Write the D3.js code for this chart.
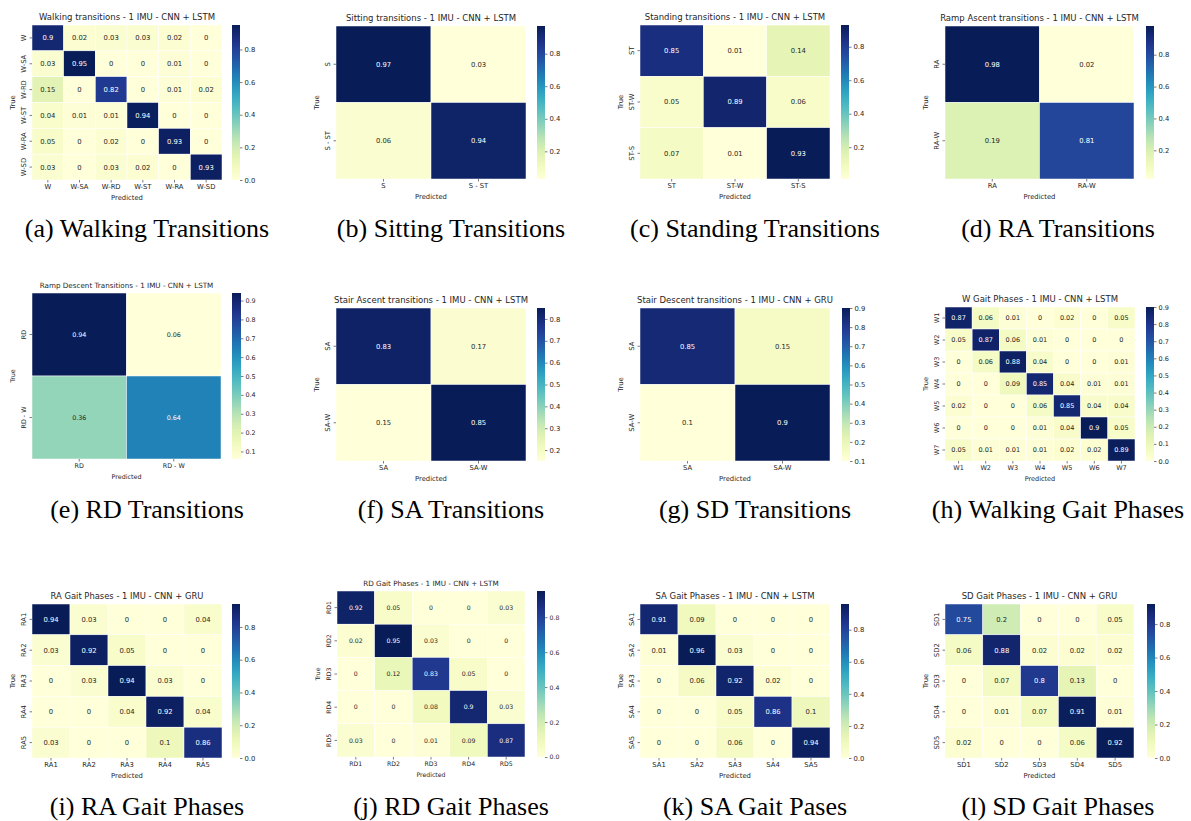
<!DOCTYPE html>
<html>
<head>
<meta charset="utf-8">
<script src="https://cdn.jsdelivr.net/npm/d3@7"></script>
<style>
  body { margin: 0; background: #fff; }
</style>
</head>
<body>
<svg id="fig" width="1191" height="821"></svg>
<script>
// ---- data ----
const walkLabels = ["W", "W-SA", "W-RD", "W-ST", "W-RA", "W-SD"];
const walkValues = [
    [0.9, 0.02, 0.03, 0.03, 0.02, 0],
    [0.03, 0.95, 0, 0, 0.01, 0],
    [0.15, 0, 0.82, 0, 0.01, 0.02],
    [0.04, 0.01, 0.01, 0.94, 0, 0],
    [0.05, 0, 0.02, 0, 0.93, 0],
    [0.03, 0, 0.03, 0.02, 0, 0.93]
];

const sitLabels = ["S", "S - ST"];
const sitValues = [[0.97, 0.03], [0.06, 0.94]];

const standLabels = ["ST", "ST-W", "ST-S"];
const standValues = [
    [0.85, 0.01, 0.14],
    [0.05, 0.89, 0.06],
    [0.07, 0.01, 0.93]
];

const raLabels = ["RA", "RA-W"];
const raValues = [[0.98, 0.02], [0.19, 0.81]];

const rdLabels = ["RD", "RD - W"];
const rdValues = [[0.94, 0.06], [0.36, 0.64]];

const saLabels = ["SA", "SA-W"];
const saValues = [[0.83, 0.17], [0.15, 0.85]];

const sdLabels = ["SA", "SA-W"];
const sdValues = [[0.85, 0.15], [0.1, 0.9]];

const wGaitLabels = ["W1", "W2", "W3", "W4", "W5", "W6", "W7"];
const wGaitValues = [
    [0.87, 0.06, 0.01, 0, 0.02, 0, 0.05],
    [0.05, 0.87, 0.06, 0.01, 0, 0, 0],
    [0, 0.06, 0.88, 0.04, 0, 0, 0.01],
    [0, 0, 0.09, 0.85, 0.04, 0.01, 0.01],
    [0.02, 0, 0, 0.06, 0.85, 0.04, 0.04],
    [0, 0, 0, 0.01, 0.04, 0.9, 0.05],
    [0.05, 0.01, 0.01, 0.01, 0.02, 0.02, 0.89]
];

const raGaitLabels = ["RA1", "RA2", "RA3", "RA4", "RA5"];
const raGaitValues = [
    [0.94, 0.03, 0, 0, 0.04],
    [0.03, 0.92, 0.05, 0, 0],
    [0, 0.03, 0.94, 0.03, 0],
    [0, 0, 0.04, 0.92, 0.04],
    [0.03, 0, 0, 0.1, 0.86]
];

const rdGaitLabels = ["RD1", "RD2", "RD3", "RD4", "RD5"];
const rdGaitValues = [
    [0.92, 0.05, 0, 0, 0.03],
    [0.02, 0.95, 0.03, 0, 0],
    [0, 0.12, 0.83, 0.05, 0],
    [0, 0, 0.08, 0.9, 0.03],
    [0.03, 0, 0.01, 0.09, 0.87]
];

const saGaitLabels = ["SA1", "SA2", "SA3", "SA4", "SA5"];
const saGaitValues = [
    [0.91, 0.09, 0, 0, 0],
    [0.01, 0.96, 0.03, 0, 0],
    [0, 0.06, 0.92, 0.02, 0],
    [0, 0, 0.05, 0.86, 0.1],
    [0, 0, 0.06, 0, 0.94]
];

const sdGaitLabels = ["SD1", "SD2", "SD3", "SD4", "SD5"];
const sdGaitValues = [
    [0.75, 0.2, 0, 0, 0.05],
    [0.06, 0.88, 0.02, 0.02, 0.02],
    [0, 0.07, 0.8, 0.13, 0],
    [0, 0.01, 0.07, 0.91, 0.01],
    [0.02, 0, 0, 0.06, 0.92]
];

// colorbar tick labels
const ticksFifths = [0, 0.2, 0.4, 0.6, 0.8];
const ticksFifthsNoZero = [0.2, 0.4, 0.6, 0.8];
const ticksTenthsFrom1 = [0.1, 0.2, 0.3, 0.4, 0.5, 0.6, 0.7, 0.8, 0.9];
const ticksTenths2to8 = [0.2, 0.3, 0.4, 0.5, 0.6, 0.7, 0.8];
const ticksTenths0to9 = [0, 0.1, 0.2, 0.3, 0.4, 0.5, 0.6, 0.7, 0.8, 0.9];

// ---- layout ----
const colCenters = [147, 451, 755, 1058];
const rowCaptionY = [237, 518, 815];

const panels = [
    { labels: walkLabels, values: walkValues, ticks: ticksFifths,
      title: "Walking transitions - 1 IMU - CNN + LSTM", caption: "(a) Walking Transitions",
      hm: [32, 25, 222, 180], cb: [232, 240], tfs: 8.5, fs: 6.8, col: 0, row: 0 },
    { labels: sitLabels, values: sitValues, ticks: ticksFifthsNoZero,
      title: "Sitting transitions - 1 IMU - CNN + LSTM", caption: "(b) Sitting Transitions",
      hm: [336, 26, 526, 179], cb: [537, 545], tfs: 8.5, fs: 6.8, col: 1, row: 0 },
    { labels: standLabels, values: standValues, ticks: ticksFifthsNoZero,
      title: "Standing transitions - 1 IMU - CNN + LSTM", caption: "(c) Standing Transitions",
      hm: [640, 25, 830, 179], cb: [841, 849], tfs: 8.5, fs: 6.8, col: 2, row: 0 },
    { labels: raLabels, values: raValues, ticks: ticksFifthsNoZero,
      title: "Ramp Ascent transitions - 1 IMU - CNN + LSTM", caption: "(d) RA Transitions",
      hm: [945, 26, 1134, 179], cb: [1146, 1154], tfs: 8.5, fs: 6.8, col: 3, row: 0 },
    { labels: rdLabels, values: rdValues, ticks: ticksTenthsFrom1,
      title: "Ramp Descent Transitions - 1 IMU - CNN + LSTM", caption: "(e) RD Transitions",
      hm: [32, 293, 221, 459], cb: [232, 241], tfs: 7.2, fs: 6.4, col: 0, row: 1 },
    { labels: saLabels, values: saValues, ticks: ticksTenths2to8,
      title: "Stair Ascent transitions - 1 IMU - CNN + LSTM", caption: "(f) SA Transitions",
      hm: [336, 308, 526, 461], cb: [537, 545], tfs: 8.5, fs: 6.8, col: 1, row: 1 },
    { labels: sdLabels, values: sdValues, ticks: ticksTenthsFrom1,
      title: "Stair Descent transitions - 1 IMU - CNN + GRU", caption: "(g) SD Transitions",
      hm: [640, 308, 830, 461], cb: [842, 850], tfs: 8.5, fs: 6.8, col: 2, row: 1 },
    { labels: wGaitLabels, values: wGaitValues, ticks: ticksTenths0to9,
      title: "W Gait Phases - 1 IMU - CNN + LSTM", caption: "(h) Walking Gait Phases",
      hm: [945, 307, 1135, 461], cb: [1146, 1154], tfs: 8.5, fs: 6.5, col: 3, row: 1 },
    { labels: raGaitLabels, values: raGaitValues, ticks: ticksFifths,
      title: "RA Gait Phases - 1 IMU - CNN + GRU", caption: "(i) RA Gait Phases",
      hm: [32, 604, 222, 758], cb: [232, 240], tfs: 8.4, fs: 6.8, col: 0, row: 2 },
    { labels: rdGaitLabels, values: rdGaitValues, ticks: ticksFifths,
      title: "RD Gait Phases - 1 IMU - CNN + LSTM", caption: "(j) RD Gait Phases",
      hm: [337, 591, 525, 757], cb: [537, 545], tfs: 7.2, fs: 6.2, col: 1, row: 2 },
    { labels: saGaitLabels, values: saGaitValues, ticks: ticksFifths,
      title: "SA Gait Phases - 1 IMU - CNN + LSTM", caption: "(k) SA Gait Pases",
      hm: [640, 604, 830, 758], cb: [841, 849], tfs: 8.5, fs: 6.8, col: 2, row: 2 },
    { labels: sdGaitLabels, values: sdGaitValues, ticks: ticksFifths,
      title: "SD Gait Phases - 1 IMU - CNN + GRU", caption: "(l) SD Gait Phases",
      hm: [945, 604, 1134, 758], cb: [1147, 1155], tfs: 8.5, fs: 6.8, col: 3, row: 2 }
];

const ink = "#262626";
const tickLen = 2.5;

const svg = d3.select("#fig");
const defs = svg.append("defs");

// seaborn picks annotation colour from the cell luminance
const luminance = c => {
    const rgb = d3.rgb(c);
    const lin = [rgb.r, rgb.g, rgb.b].map(v => {
        v = v / 255;
        return v <= 0.03928 ? v / 12.92 : Math.pow((v + 0.055) / 1.055, 2.4);
    });
    return 0.2126 * lin[0] + 0.7152 * lin[1] + 0.0722 * lin[2];
};

const styleAxis = (axisG, fs) => {
    axisG.select(".domain").remove();
    axisG.attr("font-family", "DejaVu Sans").attr("font-size", fs);
    axisG.selectAll("line").attr("stroke", ink).attr("stroke-width", 0.6);
    axisG.selectAll("text").attr("fill", ink);
};

const drawPanel = (p, pi) => {
    const [x0, y0, x1, y1] = p.hm;
    const [vmin, vmax] = d3.extent(p.values.flat());

    const color = d3.scaleSequential(d3.interpolateYlGnBu).domain([vmin, vmax]);

    const x = d3.scaleBand().domain(p.labels).range([x0, x1]);
    const y = d3.scaleBand().domain(p.labels).range([y0, y1]);

    const g = svg.append("g").attr("font-family", "DejaVu Sans");

    const cells = p.values.flatMap((row, i) =>
        row.map((v, j) => ({ r: p.labels[i], c: p.labels[j], v }))
    );

    g.selectAll("rect.cell")
     .data(cells)
     .enter().append("rect")
     .attr("class", "cell")
     .attr("x", d => x(d.c))
     .attr("y", d => y(d.r))
     .attr("width", x.bandwidth())
     .attr("height", y.bandwidth())
     .attr("fill", d => color(d.v))
     .attr("stroke", "#fff")
     .attr("stroke-width", 0.5);

    g.selectAll("text.annot")
     .data(cells)
     .enter().append("text")
     .attr("class", "annot")
     .attr("x", d => x(d.c) + x.bandwidth() / 2)
     .attr("y", d => y(d.r) + y.bandwidth() / 2)
     .attr("dy", "0.36em")
     .attr("text-anchor", "middle")
     .attr("font-size", p.fs)
     .attr("fill", d => luminance(color(d.v)) > 0.408 ? ink : "#fff")
     .text(d => d.v);

    // x ticks
    const xAxisG = g.append("g")
                    .attr("transform", `translate(0,${y1})`)
                    .call(d3.axisBottom(x).tickSize(tickLen).tickPadding(2));
    styleAxis(xAxisG, p.fs);

    // y ticks, rotated
    const yAxisG = g.append("g")
                    .attr("transform", `translate(${x0},0)`)
                    .call(d3.axisLeft(y).tickSize(tickLen).tickPadding(2));
    styleAxis(yAxisG, p.fs);
    yAxisG.selectAll("text")
          .attr("x", 0)
          .attr("dy", 0)
          .attr("text-anchor", "middle")
          .attr("transform", "translate(-6.5,0) rotate(-90)");

    // colour bar
    const gradId = `cbgrad-${pi}`;
    const grad = defs.append("linearGradient")
                     .attr("id", gradId)
                     .attr("x1", "0%").attr("y1", "100%")
                     .attr("x2", "0%").attr("y2", "0%");
    d3.range(0, 1.0001, 0.05).forEach(t => {
        grad.append("stop")
            .attr("offset", `${t * 100}%`)
            .attr("stop-color", color(vmin + t * (vmax - vmin)));
    });

    const [cbx0, cbx1] = p.cb;
    g.append("rect")
     .attr("x", cbx0)
     .attr("y", y0)
     .attr("width", cbx1 - cbx0)
     .attr("height", y1 - y0)
     .attr("fill", `url(#${gradId})`);

    const cbScale = d3.scaleLinear().domain([vmin, vmax]).range([y1, y0]);
    const cbAxisG = g.append("g")
                     .attr("transform", `translate(${cbx1},0)`)
                     .call(d3.axisRight(cbScale)
                             .tickValues(p.ticks)
                             .tickFormat(d3.format(".1f"))
                             .tickSize(tickLen)
                             .tickPadding(2));
    styleAxis(cbAxisG, p.fs);

    // titles and axis names
    g.append("text")
     .attr("x", (x0 + x1) / 2)
     .attr("y", y0 - 5)
     .attr("text-anchor", "middle")
     .attr("font-size", p.tfs)
     .attr("fill", ink)
     .text(p.title);

    g.append("text")
     .attr("x", (x0 + x1) / 2)
     .attr("y", y1 + 20)
     .attr("text-anchor", "middle")
     .attr("font-size", p.fs)
     .attr("fill", ink)
     .text("Predicted");

    g.append("text")
     .attr("transform", `translate(${x0 - 17},${(y0 + y1) / 2}) rotate(-90)`)
     .attr("text-anchor", "middle")
     .attr("font-size", p.fs)
     .attr("fill", ink)
     .text("True");

    svg.append("text")
       .attr("x", colCenters[p.col])
       .attr("y", rowCaptionY[p.row])
       .attr("text-anchor", "middle")
       .attr("font-family", "Liberation Serif")
       .attr("font-size", 26)
       .attr("fill", "#000")
       .text(p.caption);
};

panels.forEach(drawPanel);
</script>
</body>
</html>
